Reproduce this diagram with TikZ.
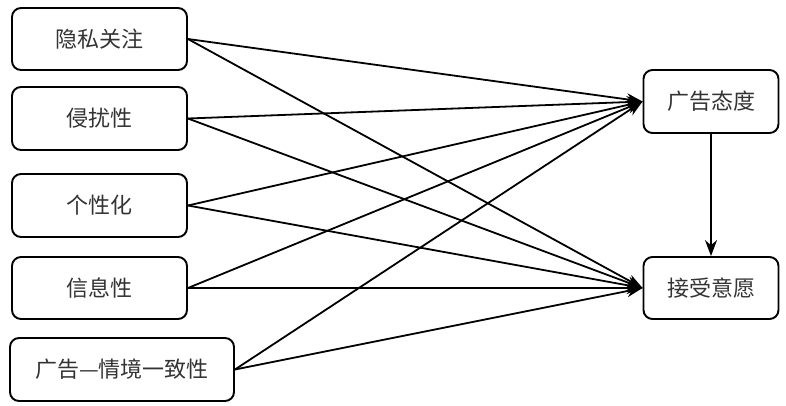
\documentclass[tikz,border=0pt]{standalone}
\usepackage{fontspec}
\setmainfont{Noto Sans CJK SC}
\usetikzlibrary{arrows.meta}
\begin{document}
\begin{tikzpicture}[x=1pt,y=-1pt,
  box/.style={draw=black,line width=1.9pt,rounded corners=9pt,inner sep=0pt,
    font=\fontsize{22}{26}\selectfont,text=black!80},
  link/.style={line width=1.8pt,-{Stealth[length=16pt,width=12pt]}}]
\useasboundingbox (0,0) rectangle (786,405);
\node[box,minimum width=175pt,minimum height=62pt] (a1) at (99.5,39) {隐私关注};
\node[box,minimum width=175pt,minimum height=63pt] (a2) at (99.5,118.5) {侵扰性};
\node[box,minimum width=175pt,minimum height=63pt] (a3) at (99.5,205.5) {个性化};
\node[box,minimum width=175pt,minimum height=62pt] (a4) at (99.5,288) {信息性};
\node[box,minimum width=224pt,minimum height=63pt] (a5) at (122,369.5) {广告—情境一致性};
\node[box,minimum width=135pt,minimum height=63pt] (b1) at (711,101.5) {广告态度};
\node[box,minimum width=135pt,minimum height=62pt] (b2) at (711,288) {接受意愿};
\foreach \s in {a1,a2,a3,a4,a5}{
  \draw[link] (\s.east) -- (b1.west);
  \draw[link] (\s.east) -- (b2.west);
}
\draw[link,line width=2pt] (b1.south) -- (b2.north);
\end{tikzpicture}
\end{document}
